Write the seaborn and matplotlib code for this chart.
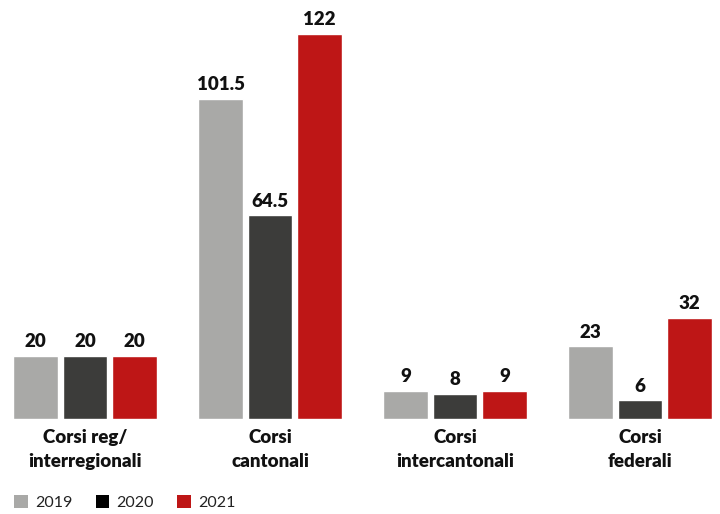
import pandas as pd
import seaborn as sns
import matplotlib.pyplot as plt
from matplotlib.patches import Patch

# data
categorie = ["Corsi reg/\ninterregionali", "Corsi\ncantonali", "Corsi\nintercantonali", "Corsi\nfederali"]
anni = ["2019", "2020", "2021"]
valori_2019 = [20, 101.5, 9, 23]
valori_2020 = [20, 64.5, 8, 6]
valori_2021 = [20, 122, 9, 32]

colori_barre = ["#a9a9a7", "#3c3c3a", "#be1616"]
colori_legenda = ["#a9a9a7", "#000000", "#be1616"]

df = pd.DataFrame({
    "categoria": categorie * 3,
    "anno": [a for a in anni for _ in categorie],
    "valore": valori_2019 + valori_2020 + valori_2021,
})

sns.set_style("white")
plt.rcParams['font.family'] = ['Lato', 'DejaVu Sans']

fig = plt.figure(figsize=(7.2, 5.14), dpi=100)
ax = fig.add_axes([0, 1 - 419 / 514, 1, (419 - 34) / 514])

sns.barplot(data=df, x="categoria", y="valore", hue="anno", palette=colori_barre,
            width=0.80, gap=0.09, saturation=1, legend=False, ax=ax)

for cont in ax.containers:
    ax.bar_label(cont, labels=[f"{v:g}" for v in cont.datavalues], padding=4,
                 fontsize=13.5, fontweight="heavy", color="#111111")

ax.set_xlim(-85 / 185, (720 - 85) / 185)
ax.set_ylim(0, 122)
ax.set_xlabel("")
ax.set_ylabel("")
ax.set_yticks([])
ax.tick_params(axis="x", length=0, pad=7)
for lab in ax.get_xticklabels():
    lab.set_fontsize(13.5)
    lab.set_fontweight("heavy")
    lab.set_color("#111111")
    lab.set_linespacing(1.5)
sns.despine(ax=ax, left=True, bottom=True)

handles = [Patch(facecolor=c, edgecolor="none") for c in colori_legenda]
fig.legend(handles, anni, loc="lower left", bbox_to_anchor=(0.0, -0.02), ncol=3,
           frameon=False, fontsize=11.5, handlelength=0.85, handleheight=0.9,
           handletextpad=0.45, columnspacing=1.45, labelcolor="#222222")

fig.savefig("out.png", dpi=100)
